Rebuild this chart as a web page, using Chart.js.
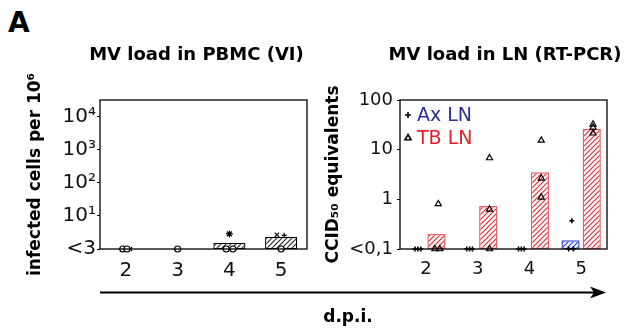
<!DOCTYPE html>
<html>
<head>
<meta charset="utf-8">
<script src="https://cdn.jsdelivr.net/npm/chart.js@4.4.1/dist/chart.umd.min.js"></script>
<style>
    body { margin: 0; background: #fff; width: 628px; height: 330px; position: relative; overflow: hidden; font-family: "DejaVu Sans", sans-serif; }
    #pbmcChart { position: absolute; left: 0; top: 0; }
    #lnChart { position: absolute; left: 320px; top: 0; }
    .panel-letter { position: absolute; left: 8px; top: 9px; font: bold 28px "DejaVu Sans"; line-height: 1; }
    .axis-arrow { position: absolute; left: 0; top: 0; }
    .axis-name { position: absolute; left: 298px; top: 308px; width: 100px; text-align: center; font: bold 17px "DejaVu Sans"; line-height: 1; }
</style>
</head>
<body>
<div class="panel-letter">A</div>
<canvas id="pbmcChart" width="320" height="285"></canvas>
<canvas id="lnChart" width="308" height="285"></canvas>
<svg class="axis-arrow" width="628" height="330">
    <line x1="100" y1="292.5" x2="596" y2="292.5" stroke="#000" stroke-width="2"/>
    <polygon points="590,286.5 606,292.5 590,298.5 594,292.5" fill="#000"/>
</svg>
<div class="axis-name">d.p.i.</div>

<script>
const days = ['2', '3', '4', '5'];

// PBMC, virus isolation
const pbmcTicks = [1, 10, 100, 1000, 10000];
const pbmcTickLabels = ['<3', '10¹', '10²', '10³', '10⁴'];
const pbmcMean = [null, null, 1.52, 2.3];
// single animals as [day, value], day slightly spread so the symbols don't sit on each other
const pbmcCircle = [[1.94, 1], [2.02, 1], [3, 1], [3.94, 1], [4.07, 1], [5, 1]];
const pbmcCross = [[2.08, 1], [4.92, 2.7]];
const pbmcStar = [[4, 2.85]];
const pbmcPlus = [[5.06, 2.6]];

// lymph nodes, RT-PCR
const lnTicks = [0.1, 1, 10, 100];
const lnTickLabels = ['<0,1', '1', '10', '100'];
const axMean = [null, null, null, 0.15];
const tbMean = [0.2, 0.73, 3.5, 26];
const axPoints = [
    [1.79, 0.1], [1.845, 0.1], [1.9, 0.1],
    [2.79, 0.1], [2.845, 0.1], [2.9, 0.1],
    [3.79, 0.1], [3.845, 0.1], [3.9, 0.1],
    [4.76, 0.1], [4.85, 0.1], [4.82, 0.37]
];
const tbPoints = [
    [2.24, 0.81], [2.175, 0.1], [2.27, 0.1],
    [3.23, 6.8], [3.23, 0.63], [3.23, 0.1],
    [4.23, 15.4], [4.23, 2.65], [4.23, 1.1],
    [5.23, 32.4], [5.23, 28.2], [5.23, 21.4]
];
const legendLabels = ['Ax LN', 'TB LN'];
const legendColors = ['#2b2d98', '#e41e26'];
const legendMarkers = ['cross', 'triangle'];

Chart.defaults.font.family = '"DejaVu Sans", sans-serif';
Chart.defaults.color = '#000';

function makeHatch(color) {
    const size = 5;
    const c = document.createElement('canvas');
    c.width = size;
    c.height = size;
    const g = c.getContext('2d');
    g.fillStyle = '#fff';
    g.fillRect(0, 0, size, size);
    g.strokeStyle = color;
    g.lineWidth = 1.1;
    g.beginPath();
    g.moveTo(-1, size + 1); g.lineTo(size + 1, -1);
    g.moveTo(-1, 1); g.lineTo(1, -1);
    g.moveTo(size - 1, size + 1); g.lineTo(size + 1, size - 1);
    g.stroke();
    return g.createPattern(c, 'repeat');
}

const framePlugin = {
    id: 'frame',
    afterDatasetsDraw(chart) {
        const a = chart.chartArea;
        const ctx = chart.ctx;
        ctx.save();
        ctx.strokeStyle = '#000';
        ctx.lineWidth = 1.3;
        ctx.strokeRect(a.left, a.top, a.right - a.left, a.bottom - a.top);
        ctx.restore();
    }
};

// title centred over the plot box, not squeezed to its width
const panelTitlePlugin = {
    id: 'panelTitle',
    afterDraw(chart) {
        const o = chart.options.plugins.panelTitle;
        const a = chart.chartArea;
        const ctx = chart.ctx;
        ctx.save();
        ctx.font = 'bold 18px "DejaVu Sans"';
        ctx.fillStyle = '#000';
        ctx.textAlign = 'center';
        ctx.textBaseline = 'middle';
        ctx.fillText(o.text, (a.left + a.right) / 2 + o.dx, 55);
        ctx.restore();
    }
};

const boxLegendPlugin = {
    id: 'boxLegend',
    afterDraw(chart) {
        if (!chart.options.plugins.boxLegend.show) return;
        const a = chart.chartArea;
        const ctx = chart.ctx;
        ctx.save();
        legendLabels.forEach((label, i) => {
            const y = a.top + 15 + i * 23;
            ctx.strokeStyle = '#000';
            ctx.fillStyle = '#fff';
            Chart.helpers.drawPoint(ctx, {
                pointStyle: legendMarkers[i],
                radius: i === 0 ? 3 : 3.5,
                borderWidth: i === 0 ? 1.8 : 1.3,
                rotation: 0
            }, a.left + 8, y);
            ctx.fillStyle = legendColors[i];
            ctx.font = '19px "DejaVu Sans"';
            ctx.textBaseline = 'middle';
            ctx.fillText(label, a.left + 17, y + 1);
        });
        ctx.restore();
    }
};

// points go on the category axis itself (index units), so bar grouping is untouched
function toPoints(pairs) {
    const first = Number(days[0]);
    return pairs.map(p => ({ x: p[0] - first, y: p[1] }));
}

function scatterSet(pairs, style, radius, fill) {
    return {
        type: 'scatter',
        parsing: false,
        order: 0,
        data: toPoints(pairs),
        pointStyle: style,
        pointRadius: radius,
        pointBorderColor: '#000',
        pointBackgroundColor: fill,
        pointBorderWidth: 1.2,
        clip: false
    };
}

function baseOptions(title, titleDx, yTitle, ticks, tickLabels, yMin, yMax, yWidth, yTitlePad, rightPad, tickPad, tickSize, legend) {
    return {
        responsive: false,
        animation: false,
        events: [],
        layout: { padding: { left: 0, right: rightPad, top: 100, bottom: 0 } },
        plugins: {
            legend: { display: false },
            tooltip: { enabled: false },
            title: { display: false },
            boxLegend: { show: legend },
            panelTitle: { text: title, dx: titleDx }
        },
        scales: {
            x: {
                type: 'category',
                offset: true,
                grid: { display: false, drawTicks: false },
                border: { display: false },
                ticks: { font: { size: tickSize }, color: '#111', padding: 10 },
                afterFit(scale) { scale.height = 36; }
            },
            y: {
                type: 'logarithmic',
                min: yMin,
                max: yMax,
                border: { display: false },
                grid: { drawOnChartArea: false, drawTicks: true, tickLength: 3, color: '#000' },
                ticks: {
                    autoSkip: false,
                    font: { size: tickSize },
                    color: '#111',
                    padding: tickPad,
                    callback: (value) => {
                        const i = ticks.indexOf(value);
                        return i >= 0 ? tickLabels[i] : '';
                    }
                },
                afterBuildTicks(scale) {
                    scale.ticks = ticks.map(v => ({ value: v }));
                },
                afterFit(scale) { scale.width = yWidth; },
                title: {
                    display: true,
                    text: yTitle,
                    font: { size: 17, weight: 'bold' },
                    color: '#000',
                    padding: { top: yTitlePad, bottom: 0 }
                }
            }
        }
    };
}

const blackHatch = makeHatch('#222');
const redHatch = makeHatch('#e0262e');
const blueHatch = makeHatch('#1f32d8');

new Chart(document.getElementById('pbmcChart'), {
    type: 'bar',
    data: {
        labels: days,
        datasets: [
            {
                label: 'PBMC',
                data: pbmcMean,
                order: 1,
                backgroundColor: blackHatch,
                borderColor: '#000',
                borderWidth: 1.2,
                borderSkipped: false,
                categoryPercentage: 0.8,
                barPercentage: 0.775
            },
            scatterSet(pbmcCircle, 'circle', 3, '#fff'),
            scatterSet(pbmcCross, 'crossRot', 3, '#000'),
            scatterSet(pbmcStar, 'star', 3.5, '#000'),
            scatterSet(pbmcPlus, 'cross', 2.5, '#000')
        ]
    },
    options: baseOptions('MV load in PBMC (VI)', -7, 'infected cells per 10⁶',
        pbmcTicks, pbmcTickLabels, 1, 32000, 100, 25, 13, 1, 20, false),
    plugins: [framePlugin, boxLegendPlugin, panelTitlePlugin]
});

new Chart(document.getElementById('lnChart'), {
    type: 'bar',
    data: {
        labels: days,
        datasets: [
            {
                label: legendLabels[0],
                data: axMean,
                order: 1,
                backgroundColor: blueHatch,
                borderColor: '#3a4ce0',
                borderWidth: 1.5,
                borderSkipped: false,
                categoryPercentage: 0.82,
                barPercentage: 0.86
            },
            {
                label: legendLabels[1],
                data: tbMean,
                order: 1,
                backgroundColor: redHatch,
                borderColor: '#e4626c',
                borderWidth: 1.5,
                borderSkipped: false,
                categoryPercentage: 0.82,
                barPercentage: 0.86
            },
            Object.assign(scatterSet(axPoints, 'cross', 2.5, '#000'), { pointBorderWidth: 1.6 }),
            scatterSet(tbPoints, 'triangle', 3.5, 'rgba(255,255,255,0)')
        ]
    },
    options: baseOptions('MV load in LN (RT-PCR)', 1.5, 'CCID₅₀ equivalents',
        lnTicks, lnTickLabels, 0.1, 100, 80, 3, 21, 4, 18, true),
    plugins: [framePlugin, boxLegendPlugin, panelTitlePlugin]
});
</script>
</body>
</html>
